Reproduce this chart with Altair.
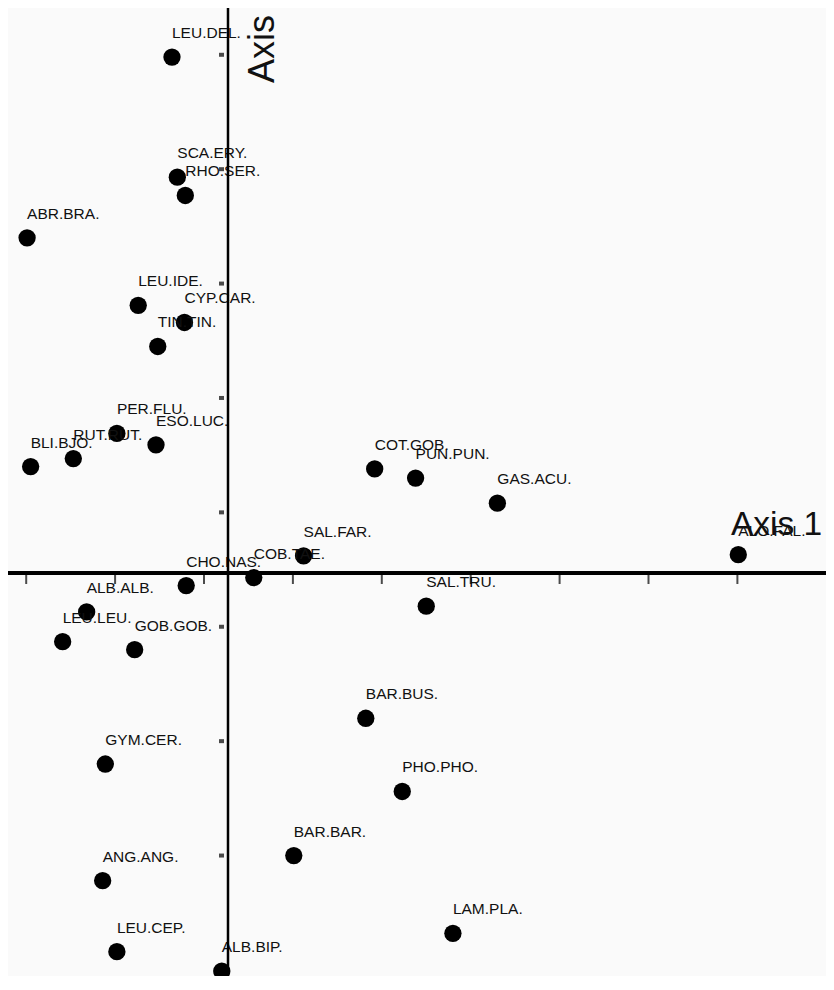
import altair as alt
import pandas as pd

# Species scores (ordination axis units)
species = ["LEU.DEL.", "SCA.ERY.", "RHO.SER.", "ABR.BRA.", "LEU.IDE.", "CYP.CAR.",
           "TIN.TIN.", "PER.FLU.", "ESO.LUC.", "RUT.RUT.", "BLI.BJO.", "COT.GOB.",
           "PUN.PUN.", "GAS.ACU.", "SAL.FAR.", "COB.TAE.", "ALO.FAL.", "CHO.NAS.",
           "ALB.ALB.", "LEU.LEU.", "GOB.GOB.", "SAL.TRU.", "BAR.BUS.", "GYM.CER.",
           "PHO.PHO.", "BAR.BAR.", "ANG.ANG.", "LAM.PLA.", "LEU.CEP.", "ALB.BIP."]
axis1 = [-0.63, -0.57, -0.48, -2.26, -1.01, -0.49,
         -0.79, -1.25, -0.81, -1.74, -2.22, 1.65,
         2.11, 3.03, 0.85, 0.29, 5.74, -0.47,
         -1.59, -1.86, -1.05, 2.23, 1.55, -1.38,
         1.96, 0.74, -1.41, 2.53, -1.25, -0.07]
axis2 = [4.51, 3.46, 3.30, 2.93, 2.34, 2.19,
         1.98, 1.22, 1.12, 1.00, 0.93, 0.91,
         0.83, 0.61, 0.15, -0.04, 0.16, -0.11,
         -0.34, -0.60, -0.67, -0.29, -1.27, -1.67,
         -1.91, -2.47, -2.69, -3.15, -3.31, -3.48]

x_ticks = [-2.27, -1.27, -0.27, 0.73, 1.73, 2.73, 3.73, 4.73, 5.73]
y_ticks = [4.53, 3.53, 2.53, 1.53, 0.53, -0.47, -1.47, -2.47]

axis_titles = ["Axis 1", "Axis 2"]

df = pd.DataFrame({"species": species, "axis1": axis1, "axis2": axis2})
xt_df = pd.DataFrame({"t": x_ticks, "z": [0] * len(x_ticks)})
yt_df = pd.DataFrame({"t": y_ticks, "z": [0] * len(y_ticks)})
zero_df = pd.DataFrame({"z": [0]})

FONT = "Liberation Sans"
xs = alt.Scale(domain=[-2.4747, 6.7267], nice=False, zero=False)
ys = alt.Scale(domain=[-3.523, 4.939], nice=False, zero=False)

X = alt.X("axis1:Q", scale=xs, axis=None)
Y = alt.Y("axis2:Q", scale=ys, axis=None)

base = alt.Chart(df)
points = base.mark_circle(size=300, color="black", opacity=1).encode(x=X, y=Y)
labels = base.mark_text(align="left", baseline="middle", dy=-24, fontSize=15.5,
                        font=FONT, color="#111111").encode(x=X, y=Y, text="species:N")

hline = alt.Chart(zero_df).mark_rule(strokeWidth=4, color="black").encode(
    y=alt.Y("z:Q", scale=ys, axis=None))
vline = alt.Chart(zero_df).mark_rule(strokeWidth=2.5, color="black").encode(
    x=alt.X("z:Q", scale=xs, axis=None))

xt = alt.Chart(xt_df).mark_tick(orient="vertical", size=10, thickness=2, yOffset=6,
                                color="black").encode(
    x=alt.X("t:Q", scale=xs, axis=None), y=alt.Y("z:Q", scale=ys, axis=None))
yt = alt.Chart(yt_df).mark_tick(orient="horizontal", size=5, thickness=4, xOffset=-6.5,
                                color="black").encode(
    x=alt.X("z:Q", scale=xs, axis=None), y=alt.Y("t:Q", scale=ys, axis=None))

t1 = alt.Chart(pd.DataFrame({"label": [axis_titles[0]]})).mark_text(
    align="left", baseline="alphabetic", fontSize=33.5, font=FONT, color="#111111").encode(
    x=alt.value(723), y=alt.value(527), text="label:N")
t2 = alt.Chart(pd.DataFrame({"label": [axis_titles[1]]})).mark_text(
    align="left", baseline="alphabetic", fontSize=36, font=FONT, color="#111111",
    angle=270).encode(x=alt.value(266), y=alt.value(75), text="label:N")

chart = alt.layer(points, labels, hline, vline, xt, yt, t1, t2).properties(
    width=818, height=968, padding=0,
    autosize=alt.AutoSizeParams(type="none"),
    background="#fafafa",
).configure_view(stroke=None)

chart.save("out.html", embed_options={"renderer": "svg", "actions": False})
